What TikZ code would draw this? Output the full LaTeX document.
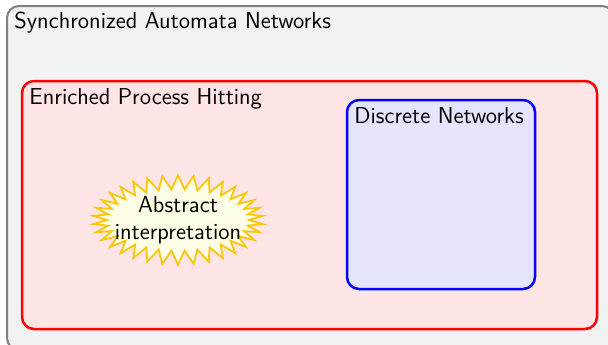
\documentclass[tikz,border=0pt]{standalone}
\usetikzlibrary{shapes.symbols}
\begin{document}
\begin{tikzpicture}[x=0.5pt,y=-0.5pt,
  every node/.style={font=\fontsize{11.5}{13.5}\selectfont\sffamily},
  framebox/.style={rounded corners=6pt},
  lbl/.style={anchor=north west, inner sep=3.5pt},
  burst/.style={starburst, starburst points=34, starburst point height=7pt,
    random starburst=0, draw=yellow!60!orange, fill=yellow!10, line width=0.9pt,
    align=center, inner xsep=-6.5pt, inner ysep=-1pt}]
\useasboundingbox (0,0) rectangle (608,344);
\clip (0,0) rectangle (608,344);
% outermost family of models
\draw[framebox, draw=black!50, fill=black!5, line width=1pt] (7,6) rectangle (614,350);
\node[lbl] (san) at (7,5) {Synchronized Automata Networks};
% process hitting with priorities
\draw[framebox, draw=red, fill=red!10, line width=1.25pt] (22,81) rectangle (597,329);
\node[lbl] (eph) at (22,81) {Enriched Process Hitting};
% discrete networks inside
\draw[framebox, draw=blue, fill=blue!10, line width=1.25pt] (347,100) rectangle (535,289);
\node[lbl] (dn) at (347,100) {Discrete Networks};
% analysis method
\node[burst] (ai) at (178,220) {Abstract\\interpretation};
\end{tikzpicture}
\end{document}
